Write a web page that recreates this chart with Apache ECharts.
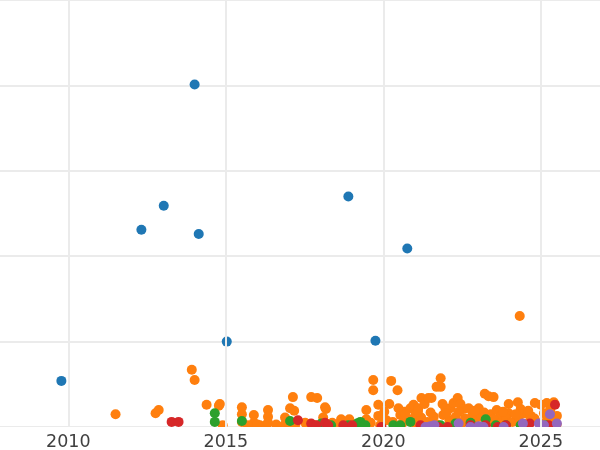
<!DOCTYPE html>
<html><head><meta charset="utf-8">
<script src="https://cdn.jsdelivr.net/npm/echarts@6/dist/echarts.min.js"></script>
<style>html,body{margin:0;padding:0;background:#fff}#c{width:600px;height:450px}</style>
</head><body><div id="c"></div>
<script>
const blue = [[2009.78,54],[2012.32,231],[2013.03,259],[2014.01,401],[2014.14,226],[2015.03,100],[2018.89,270],[2019.75,101],[2020.76,209]];
const orange = [[2011.50,15],[2012.77,16],[2012.87,20],[2013.92,67],[2014.01,55],[2014.39,26],[2014.78,25],[2014.81,27],[2014.90,2],
[2015.51,23],[2015.51,15],[2015.51,6],[2015.89,14],[2015.89,5],[2016.08,2],[2016.27,2],[2016.34,20],[2016.34,12],[2016.34,5],
[2016.88,11],[2016.85,2],[2017.04,22],[2017.13,35],[2017.17,19],[2017.20,2],[2017.52,5],[2017.71,35],[2017.90,34],[2017.83,2],
[2018.09,11],[2018.12,2],[2018.15,23],[2018.18,21],[2018.38,5],[2018.66,9],[2018.92,9],[2018.95,4],[2019.46,20],[2019.46,9],
[2019.68,55],[2019.68,43],[2019.84,26],[2019.84,13],[2019.90,2],[2020.03,18],[2020.10,8],[2020.19,27],[2020.25,54],[2020.45,43],
[2020.48,22],[2020.54,14],[2020.67,18],[2020.86,22],[2020.96,26],[2021.02,14],[2021.11,22],[2021.21,34],[2021.31,27],[2021.43,34],
[2021.53,34],[2021.69,47],[2021.82,47],[2021.82,57],[2021.88,27],[2021.97,22],[2022.13,22],[2022.23,28],[2022.36,34],[2022.45,27],
[2022.55,21],[2022.71,22],[2022.83,14],[2023.03,22],[2023.22,39],[2023.34,36],[2023.50,35],[2023.41,15],[2023.60,20],[2023.73,13],
[2023.98,16],[2023.98,27],[2024.27,29],[2024.36,21],[2024.49,16],[2024.68,13],[2024.81,28],[2025.00,26],[2025.19,28],[2025.41,29],
[2025.51,13],[2024.33,130],
[2020.0,10],[2020.3,6],[2020.6,4],[2020.8,9],[2021.0,5],[2021.2,11],[2021.4,6],[2021.6,12],[2021.7,3],[2021.9,14],[2022.1,8],
[2022.3,12],[2022.5,5],[2022.6,10],[2022.9,7],[2023.1,12],[2023.3,5],[2023.5,9],[2023.7,4],[2023.9,10],[2024.1,6],[2024.3,11],
[2024.6,5],[2024.8,10],[2025.0,4],[2025.2,9],[2025.4,6],[2025.5,3],[2020.7,15],[2021.1,18],[2021.5,17],[2022.0,16],[2022.4,18],
[2022.9,19],[2023.2,17],[2023.8,18],[2024.2,15],[2024.6,19],[2025.1,16],[2025.3,20],[2017.6,3],[2017.0,4],[2018.5,2],[2019.1,3],
[2019.6,5],[2015.7,2],[2016.0,3],[2016.6,3]];
const green = [[2014.65,16],[2014.65,6],[2015.51,7],[2017.04,7],[2018.03,4],[2018.34,2],[2018.89,2],[2019.17,4],[2019.27,6],
[2019.43,2],[2020.32,2],[2020.54,2],[2020.86,6],[2021.82,2],[2022.29,4],[2022.77,5],[2023.25,9],[2023.57,2],[2023.89,2],[2024.36,2],[2025.16,2]];
const red = [[2013.28,6],[2013.50,6],[2017.29,8],[2017.71,4],[2017.87,2],[2018.15,5],[2018.25,2],[2018.73,2],[2019.01,2],[2019.94,0],
[2021.18,2],[2021.75,0],[2022.04,0],[2022.77,2],[2023.25,2],[2023.63,0],[2023.89,2],[2024.65,4],[2025.25,2],[2025.45,26]];
const purple = [[2021.34,0],[2021.50,1],[2021.62,2],[2022.39,4],[2022.77,0],[2023.03,1],[2023.18,0],[2023.82,0],[2024.43,4],
[2024.94,4],[2025.10,2],[2025.29,15],[2025.51,4]];

const colors = ['#1f77b4','#ff7f0e','#2ca02c','#d62728','#9467bd'];
const seriesData = [blue, orange, green, red, purple];

const chart = echarts.init(document.getElementById('c'));
chart.setOption({
  animation: false,
  grid: {left: -1, right: -1, top: 0, bottom: 23, outerBoundsMode: 'none', containLabel: false},
  graphic: [{type: 'rect', left: 0, bottom: 0, z: 50, silent: true,
    shape: {width: 600, height: 23}, style: {fill: '#ffffff'}}],
  xAxis: {
    type: 'value', min: 2007.8, max: 2026.91, splitNumber: 4, z: 60,
    axisLine: {show: false}, axisTick: {show: false},
    axisLabel: {showMinLabel: false, showMaxLabel: false, fontSize: 17.5, color: '#404040', fontFamily: 'DejaVu Sans', margin: 6,
      formatter: v => (Math.abs(v % 5) < 1e-6 ? String(v) : '')},
    splitLine: {show: true, lineStyle: {color: '#ebebeb', width: 2}}
  },
  yAxis: {
    type: 'value', min: 0, max: 500, interval: 100,
    axisLine: {show: false}, axisTick: {show: false}, axisLabel: {show: false},
    splitLine: {show: true, lineStyle: {color: '#ebebeb', width: 2}}
  },
  series: seriesData.map((d, i) => ({
    type: 'scatter', data: d, symbolSize: 10, clip: true,
    itemStyle: {color: colors[i], opacity: 1}
  }))
});
</script></body></html>
